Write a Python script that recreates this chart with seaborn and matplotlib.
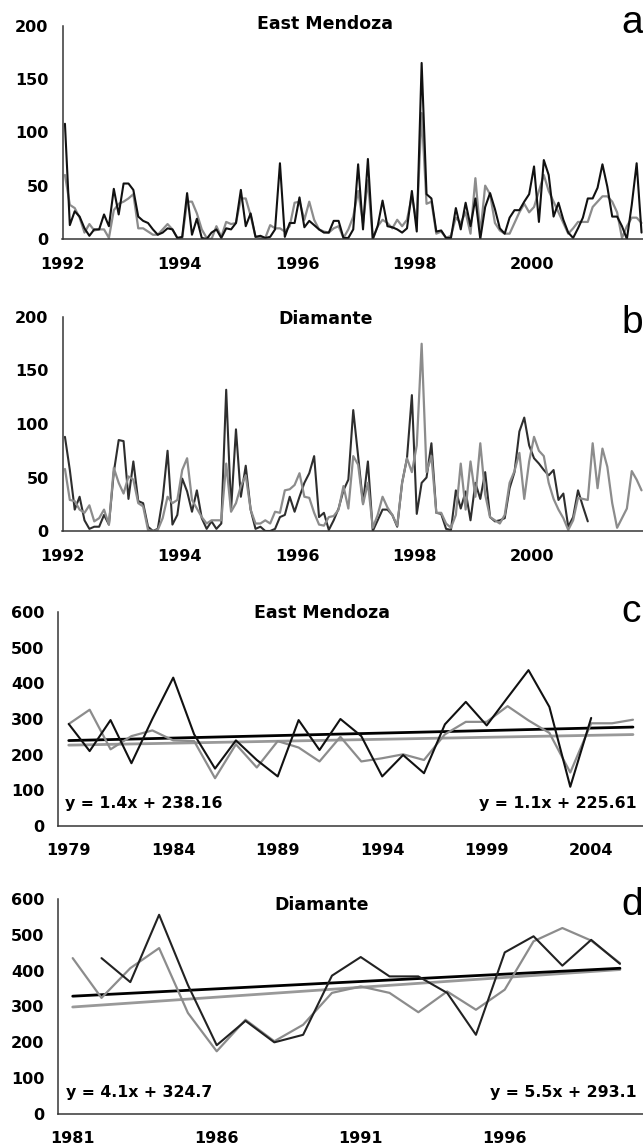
import numpy as np
import matplotlib
matplotlib.use("Agg")
import matplotlib.pyplot as plt
import seaborn as sns

nan = np.nan

# ---------------- data ----------------
# Panels a/b: monthly values Jan 1992 .. Nov 2001 (119 months)
month_years = [1992, 1993, 1994, 1995, 1996, 1997, 1998, 1999, 2000, 2001]

east_monthly_black = [
    108, 13, 26, 21, 10, 3, 9, 9, 23, 12, 47, 23,
    52, 52, 46, 21, 17, 15, 9, 4, 6, 10, 9, 1,
    2, 43, 4, 19, 1, 0, 6, 9, 1, 10, 9, 15,
    46, 12, 24, 2, 3, 1, 2, 9, 71, 2, 15, 15,
    39, 11, 17, 13, 9, 6, 6, 17, 17, 1, 1, 9,
    70, 9, 75, 0, 12, 36, 12, 11, 9, 6, 10, 45,
    7, 165, 42, 38, 7, 8, 1, 1, 29, 9, 34, 12,
    38, 0, 30, 43, 28, 10, 5, 20, 27, 27, 35, 42,
    68, 16, 74, 60, 21, 34, 18, 6, 1, 10, 20, 38,
    38, 48, 70, 49, 21, 21, 12, 0, 32, 71, 6]
east_monthly_gray = [
    60, 32, 29, 20, 6, 14, 8, 9, 9, 1, 27, 33,
    35, 38, 42, 10, 10, 7, 4, 4, 9, 14, 9, 1,
    1, 35, 35, 24, 9, 1, 0, 12, 2, 16, 14, 15,
    38, 38, 22, 2, 1, 1, 13, 10, 10, 7, 12, 34,
    35, 18, 35, 18, 9, 7, 6, 10, 12, 1, 9, 21,
    45, 15, 55, 0, 12, 18, 15, 10, 18, 12, 18, 40,
    15, 118, 33, 35, 5, 7, 1, 3, 20, 15, 25, 5,
    57, 5, 50, 42, 15, 8, 5, 5, 15, 25, 33, 25,
    30, 45, 60, 45, 35, 25, 15, 5, 10, 16, 16, 16,
    30, 35, 40, 40, 35, 25, 1, 12, 20, 20, 15]

diam_monthly_black = [
    88, 57, 20, 32, 10, 2, 4, 4, 15, 6, 55, 85,
    84, 30, 65, 28, 26, 4, 0, 2, 30, 75, 6, 15,
    49, 37, 18, 38, 12, 2, 9, 2, 7, 132, 20, 95,
    32, 61, 20, 2, 4, 0, 0, 2, 13, 15, 32, 18,
    32, 45, 54, 70, 13, 17, 1, 10, 21, 38, 48, 113,
    70, 26, 65, 0, 10, 20, 20, 15, 4, 45, 68, 127,
    16, 45, 50, 82, 17, 16, 2, 1, 38, 21, 37, 10,
    45, 30, 55, 13, 9, 10, 12, 40, 55, 93, 106, 80,
    68, 63, 57, 52, 57, 29, 35, 4, 13, 38, 23, 9,
    nan, nan, nan, nan, nan, nan, nan, nan, nan, nan, nan]
diam_monthly_gray = [
    58, 29, 28, 20, 17, 24, 9, 12, 20, 6, 59, 45,
    35, 51, 48, 26, 23, 1, 0, 1, 12, 32, 26, 29,
    57, 68, 29, 21, 13, 7, 10, 10, 10, 63, 18, 26,
    42, 52, 20, 7, 7, 10, 7, 18, 17, 38, 39, 43,
    54, 32, 31, 17, 6, 5, 13, 14, 20, 42, 21, 70,
    62, 25, 45, 3, 15, 32, 22, 15, 5, 45, 68, 55,
    80, 175, 55, 70, 17, 17, 7, 3, 15, 63, 20, 65,
    32, 82, 34, 13, 10, 7, 15, 45, 56, 73, 30, 65,
    88, 75, 70, 45, 30, 20, 12, 1, 10, 31, 30, 29,
    82, 40, 77, 60, 26, 3, 12, 21, 56, 48, 38]

# Panel c: annual totals, East Mendoza 1979..2006
east_years = list(range(1979, 2007))
east_annual_black = [286, 210, 297, 176, 300, 416, 257, 161, 240, 185, 139, 297, 213,
                     300, 252, 139, 199, 148, 285, 348, 282, 360, 437, 334, 110, 303,
                     nan, nan]
east_annual_gray = [286, 326, 215, 252, 268, 240, 238, 134, 229, 164, 238, 220, 181,
                    250, 181, 190, 201, 185, 257, 292, 292, 336, 296, 261, 150, 288,
                    288, 298]
east_trend_black = (1.4, 238.16)
east_trend_gray = (1.1, 225.61)

# Panel d: annual totals, Diamante 1981..2000
diam_years = list(range(1981, 2001))
diam_annual_black = [nan, 435, 368, 556, 360, 192, 260, 200, 221, 386, 438, 384, 384,
                     338, 221, 451, 496, 414, 486, 419]
diam_annual_gray = [435, 324, 407, 463, 282, 175, 263, 203, 249, 338, 356, 338, 284,
                    342, 291, 347, 482, 519, 484, 421]
diam_trend_black = (4.1, 324.7)
diam_trend_gray = (5.5, 293.1)

# ---------------- style ----------------
sns.set_theme(style="white")
plt.rcParams["font.family"] = ["DejaVu Sans"]
plt.rcParams["font.weight"] = "bold"
plt.rcParams["text.color"] = "black"
plt.rcParams["axes.edgecolor"] = "#353535"
plt.rcParams["axes.linewidth"] = 1.1
plt.rcParams["xtick.color"] = "#353535"
plt.rcParams["ytick.color"] = "#353535"
plt.rcParams["xtick.labelcolor"] = "black"
plt.rcParams["ytick.labelcolor"] = "black"

W, H = 643, 1148
fig = plt.figure(figsize=(W / 100, H / 100), dpi=100)
fig.patch.set_facecolor("white")


def add_axes(left, top, bottom, right=W):
    ax = fig.add_axes([left / W, 1 - bottom / H, (right - left) / W, (bottom - top) / H])
    ax.set_facecolor("white")
    for s in ("top", "right"):
        ax.spines[s].set_visible(False)
    ax.grid(False)
    return ax


def ftext(x, y, s, **kw):
    fig.text(x / W, 1 - y / H, s, color="black", **kw)


TICK_FS = 11.5
BLACK = "#111111"
GRAY = "#8c8c8c"


def style_monthly(ax, ymax, ystep):
    n = len(month_years)
    ax.set_xlim(-0.5, 118.3)
    ax.set_ylim(0, ymax)
    ax.set_xticks([-0.5 + 12 * k for k in range(n)])
    ax.set_xticklabels([str(y) if (y - 1992) % 2 == 0 else "" for y in month_years])
    ax.set_yticks(np.arange(0, ymax + 1, ystep))
    ax.tick_params(axis="x", direction="out", length=6, width=1.1, pad=7, labelsize=TICK_FS)
    ax.tick_params(axis="y", direction="out", length=6, width=1.1, pad=4, labelsize=TICK_FS)
    ax.set_xlabel("")
    ax.set_ylabel("")


def style_annual(ax, years, xmax, label_every=5):
    n = len(years)
    ax.set_xlim(-0.5, xmax)
    ax.set_ylim(0, 600)
    ax.set_xticks([-0.5 + k for k in range(n + 1) if -0.5 + k <= xmax])
    ax.set_xticklabels([])
    ax.set_xticks(list(range(0, n, label_every)), minor=True)
    ax.set_xticklabels([str(years[i]) for i in range(0, n, label_every)], minor=True)
    ax.set_yticks(np.arange(0, 601, 100))
    ax.tick_params(axis="x", which="major", direction="out", length=6, width=1.1)
    ax.tick_params(axis="x", which="minor", length=0, pad=12, labelsize=TICK_FS)
    ax.tick_params(axis="y", direction="out", length=6, width=1.1, pad=4, labelsize=TICK_FS)
    ax.set_xlabel("")
    ax.set_ylabel("")


months = np.arange(119)

# ---- panel a ----
axA = add_axes(62.5, 25.6, 239)
sns.lineplot(x=months, y=east_monthly_gray, ax=axA, color=GRAY, lw=1.6, estimator=None)
sns.lineplot(x=months, y=east_monthly_black, ax=axA, color=BLACK, lw=1.5, estimator=None)
style_monthly(axA, 200, 50)

# ---- panel b ----
axB = add_axes(62.5, 317, 531)
sns.lineplot(x=months, y=diam_monthly_black, ax=axB, color="#2e2e2e", lw=1.5, estimator=None)
sns.lineplot(x=months, y=diam_monthly_gray, ax=axB, color=GRAY, lw=1.6, estimator=None)
style_monthly(axB, 200, 50)

# ---- panel c ----
axC = add_axes(58.3, 612, 826)
xc = np.arange(len(east_years))
idx_c = xc + 1
sns.lineplot(x=xc, y=east_trend_gray[0] * idx_c + east_trend_gray[1], ax=axC,
             color="#999999", lw=2.0, estimator=None)
sns.lineplot(x=xc, y=east_trend_black[0] * idx_c + east_trend_black[1], ax=axC,
             color="black", lw=2.0, estimator=None)
sns.lineplot(x=xc, y=east_annual_gray, ax=axC, color=GRAY, lw=1.6, estimator=None)
sns.lineplot(x=xc, y=east_annual_black, ax=axC, color=BLACK, lw=1.5, estimator=None)
style_annual(axC, east_years, 27.48)

# ---- panel d ----
axD = add_axes(58.3, 899, 1114)
xd = np.arange(len(diam_years))
idx_d = xd + 1
sns.lineplot(x=xd, y=diam_trend_gray[0] * idx_d + diam_trend_gray[1], ax=axD,
             color="#999999", lw=2.0, estimator=None)
sns.lineplot(x=xd, y=diam_trend_black[0] * idx_d + diam_trend_black[1], ax=axD,
             color="black", lw=2.0, estimator=None)
sns.lineplot(x=xd, y=diam_annual_gray, ax=axD, color=GRAY, lw=1.6, estimator=None)
sns.lineplot(x=xd, y=diam_annual_black, ax=axD, color="#222222", lw=1.5, estimator=None)
style_annual(axD, diam_years, 19.8)

for ax in (axA, axB, axC, axD):
    leg = ax.get_legend()
    if leg is not None:
        leg.remove()

# ---- titles, panel letters, equations ----
TITLE_FS = 12.5
ftext(325, 29, "East Mendoza", ha="center", va="baseline", fontsize=TITLE_FS, fontweight="bold")
ftext(326, 324, "Diamante", ha="center", va="baseline", fontsize=TITLE_FS, fontweight="bold")
ftext(322, 618, "East Mendoza", ha="center", va="baseline", fontsize=TITLE_FS, fontweight="bold")
ftext(322, 910, "Diamante", ha="center", va="baseline", fontsize=TITLE_FS, fontweight="bold")

for letter, ybase in (("a", 33), ("b", 333), ("c", 622), ("d", 915)):
    ftext(621, ybase, letter, ha="left", va="baseline", fontsize=28,
          fontweight="normal", family=["Liberation Sans", "DejaVu Sans"])

EQ_FS = 11.3
ftext(65, 808, "y = %.1fx + %.2f" % east_trend_black, ha="left", va="baseline",
      fontsize=EQ_FS, fontweight="bold")
ftext(637, 808, "y = %.1fx + %.2f" % east_trend_gray, ha="right", va="baseline",
      fontsize=EQ_FS, fontweight="bold")
ftext(66, 1097, "y = %.1fx + %.1f" % diam_trend_black, ha="left", va="baseline",
      fontsize=EQ_FS, fontweight="bold")
ftext(637, 1097, "y = %.1fx + %.1f" % diam_trend_gray, ha="right", va="baseline",
      fontsize=EQ_FS, fontweight="bold")

fig.savefig("out.png", dpi=100, facecolor="white")
